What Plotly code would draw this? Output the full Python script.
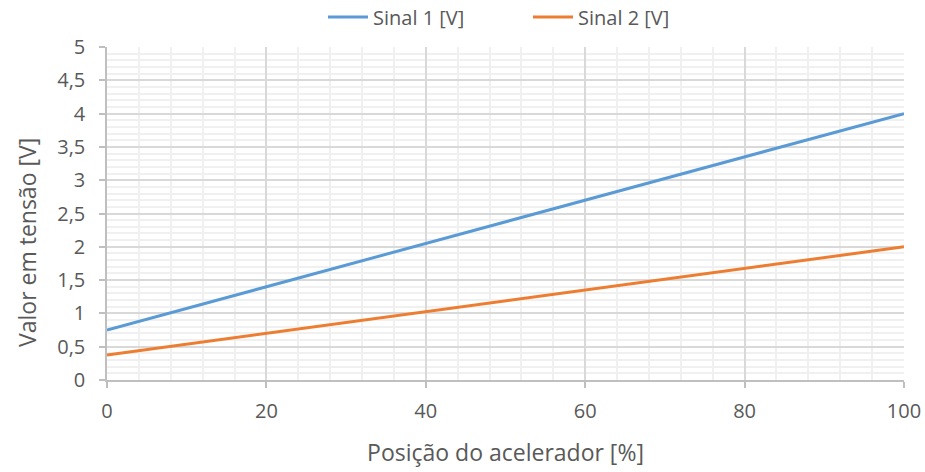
import plotly.graph_objects as go

# Accelerator position (%) and the two sensor signal voltages
posicao = [0, 20, 40, 60, 80, 100]
sinal_1 = [0.75, 1.40, 2.05, 2.70, 3.35, 4.00]
sinal_2 = [0.375, 0.70, 1.025, 1.35, 1.675, 2.00]

FONT = "Open Sans"
TEXT = "#595959"
TICK_SIZE = 20
TITLE_SIZE = 23

fig = go.Figure()
fig.add_trace(go.Scatter(x=posicao, y=sinal_1, mode="lines", name="Sinal 1 [V]",
                         line=dict(color="#5B9BD5", width=3)))
fig.add_trace(go.Scatter(x=posicao, y=sinal_2, mode="lines", name="Sinal 2 [V]",
                         line=dict(color="#ED7D31", width=3)))

fig.update_layout(
    width=925, height=472,
    margin=dict(l=107, r=21, t=47, b=92, autoexpand=False),
    paper_bgcolor="white", plot_bgcolor="white",
    separators=", ",
    font=dict(family=FONT, size=TICK_SIZE, color=TEXT),
    showlegend=True,
    legend=dict(orientation="h", x=(323 - 107) / 797, xanchor="left",
                y=(380 - 17) / 333, yanchor="middle",
                font=dict(family=FONT, size=TICK_SIZE, color=TEXT),
                itemwidth=40, bgcolor="rgba(0,0,0,0)",
                entrywidth=150, entrywidthmode="pixels"),
)

# vertical axis title, placed slightly below the plot's middle
fig.add_annotation(text="Valor em tensão [V]", textangle=-90,
                   xref="paper", yref="paper",
                   x=(27 - 107) / 797, y=(380 - 243) / 333,
                   xanchor="center", yanchor="middle", showarrow=False,
                   font=dict(family=FONT, size=TITLE_SIZE, color=TEXT))

fig.update_xaxes(
    range=[0, 100], dtick=20, tick0=0, automargin=False,
    showgrid=True, gridcolor="#d9d9d9", gridwidth=1.5,
    minor=dict(dtick=4, tick0=0, showgrid=True, gridcolor="#f0f0f0", gridwidth=1.5),
    showline=True, linecolor="#bfbfbf", linewidth=1.5,
    ticks="outside", ticklen=6, tickcolor="#bfbfbf", tickwidth=1.5,
    ticklabelstandoff=6,
    tickfont=dict(family=FONT, size=TICK_SIZE, color=TEXT),
    zeroline=False,
    title=dict(text="Posição do acelerador [%]", standoff=22,
               font=dict(family=FONT, size=TITLE_SIZE, color=TEXT)),
)
fig.update_yaxes(
    range=[0, 5], dtick=0.5, tick0=0, automargin=False,
    showgrid=True, gridcolor="#d9d9d9", gridwidth=1.5,
    minor=dict(dtick=0.1, tick0=0, showgrid=True, gridcolor="#f0f0f0", gridwidth=1.5),
    showline=True, linecolor="#bfbfbf", linewidth=1.5,
    ticks="outside", ticklen=6, tickcolor="#bfbfbf", tickwidth=1.5,
    ticklabelstandoff=10,
    tickfont=dict(family=FONT, size=TICK_SIZE, color=TEXT),
    zeroline=False,
)

fig.write_html("out.html")
